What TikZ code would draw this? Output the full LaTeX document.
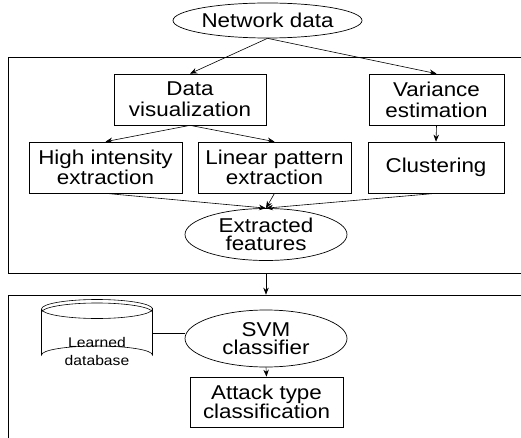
\documentclass[tikz,border=0pt]{standalone}
\usepackage{fontspec}
\setmainfont{Liberation Sans}[FakeStretch=1.12]
\usetikzlibrary{shapes.geometric,arrows.meta,calc}
\begin{document}
\begin{tikzpicture}[x=1pt,y=-1pt,
  every node/.style={inner sep=0pt, align=center, font=\fontsize{20}{18.5}\selectfont},
  wide/.style={font=\fontsize{20}{21}\selectfont},
  tight/.style={font=\fontsize{20}{16.5}\selectfont},
  stepbox/.style={draw, line width=0.7pt, minimum height=51pt},
  oval/.style={draw, ellipse, line width=0.7pt},
  frame/.style={draw, line width=0.7pt},
  arr/.style={-{Stealth[length=7pt,width=5.5pt]}, line width=0.6pt},
  link/.style={line width=0.6pt}]
\useasboundingbox (0,0) rectangle (521,438);
\clip (0,0) rectangle (521,438);

% stage frames (open to the right and bottom)
\node[frame, minimum width=522pt, minimum height=216pt] (stageA) at (269,165) {};
\node[frame, minimum width=522pt, minimum height=160pt] (stageB) at (269,375) {};

% feature extraction stage
\node[oval, minimum width=189pt, minimum height=35pt] (net) at (267.5,20.5) {Network data};
\node[stepbox, wide, minimum width=152pt] (vis) at (190,99.5) {Data\\visualization};
\node[stepbox, wide, minimum width=135pt] (var) at (436.5,99.5) {Variance\\estimation};
\node[stepbox, tight, minimum width=153pt] (high) at (105.5,167.5) {High intensity\\extraction};
\node[stepbox, tight, minimum width=153pt] (lin) at (274.5,167.5) {Linear pattern\\extraction};
\node[stepbox, minimum width=136pt] (clu) at (436,167.5) {Clustering};
\node[oval, minimum width=162pt, minimum height=52pt] (feat) at (266,234.5) {Extracted\\features};

% classification stage
\node[oval, minimum width=162pt, minimum height=57pt] (svm) at (266,338.5) {SVM\\classifier};
\node[stepbox, minimum width=153pt, minimum height=50pt] (atk) at (266.5,402) {Attack type\\classification};

% learned database drum
\begin{scope}[line width=0.6pt]
  \draw (41.5,309) -- (41.5,355) arc[start angle=180, end angle=360, x radius=55.5, y radius=9]
        -- (152.5,309) arc[start angle=0, end angle=360, x radius=55.5, y radius=9.5];
  \draw (41.5,312.5) arc[start angle=180, end angle=360, x radius=55.5, y radius=9.5];
\end{scope}
\node[font=\fontsize{14}{18}\selectfont] (db) at (97,351) {Learned\\database};
\coordinate (dbr) at (152.5,333);

% connectors
\draw[arr] (net.south) -- (vis.north);
\draw[arr] (net.south) -- (var.north);
\draw[arr] (vis.south) -- (high.north);
\draw[arr] (vis.south) -- (lin.north);
\draw[arr] (var.south) -- (clu.north);
\draw[arr] (high.south) -- (feat.north);
\draw[arr] (lin.south) -- (feat.north);
\draw[arr] (clu.south) -- (feat.north);
\draw[arr] (feat.south |- stageA.south) -- (feat.south |- stageB.north);
\draw[link] (dbr) -- (dbr -| svm.west);
\draw[arr] (svm.south) -- (atk.north);
\end{tikzpicture}
\end{document}
